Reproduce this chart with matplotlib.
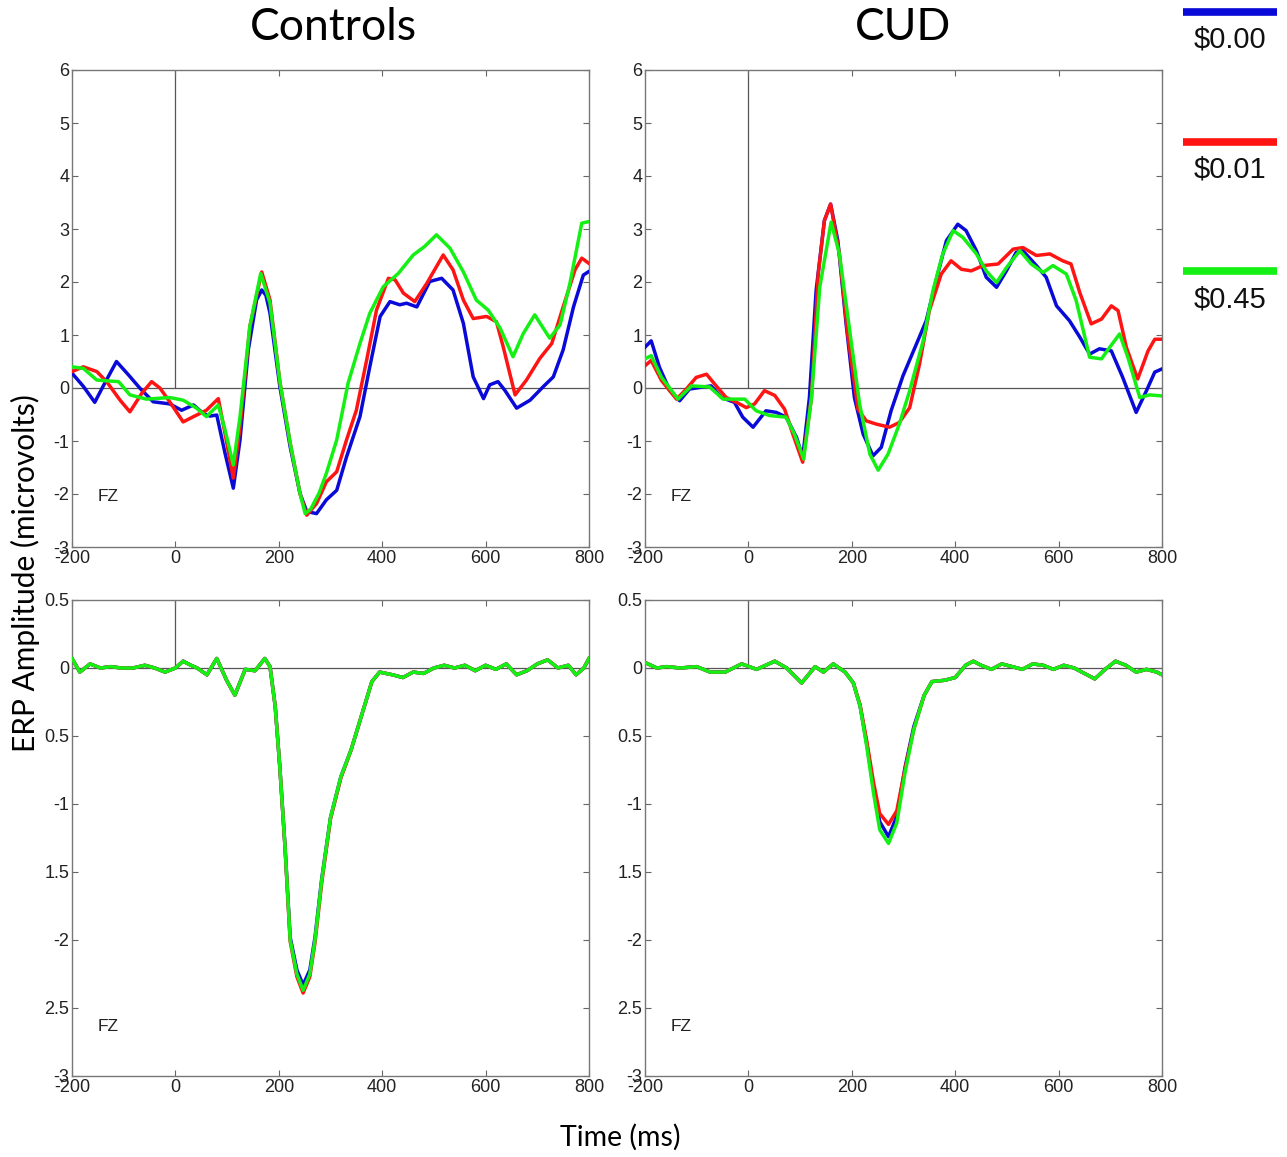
import matplotlib
matplotlib.use("Agg")
import matplotlib.pyplot as plt

plt.rcParams['font.family'] = ['Liberation Sans', 'DejaVu Sans']
plt.rcParams['axes.unicode_minus'] = False

# ---- data (time in ms, amplitude in microvolts) ----
labels = ["$0.00", "$0.01", "$0.45"]
colors = ["#0a0ad8", "#ff1414", "#14f014"]

# Controls, top (raw ERP)
ctrl_blue_t = [-200, -178, -156, -140, -114, -91, -69, -43, -11, 12, 35, 54, 67, 80, 96, 112, 125, 141, 157, 167,
               175, 183, 202, 222, 241, 254, 273, 292, 312, 331, 357, 376, 396, 415, 434, 447, 467, 492, 515, 537,
               557, 576, 596, 608, 624, 637, 660, 686, 712, 731, 750, 770, 789, 800]
ctrl_blue_v = [0.28, 0.03, -0.27, 0.03, 0.50, 0.25, 0.0, -0.26, -0.30, -0.42, -0.32, -0.48, -0.53, -0.51, -1.23,
               -1.89, -0.98, 0.72, 1.66, 1.85, 1.75, 1.41, 0.03, -1.11, -1.99, -2.33, -2.37, -2.11, -1.93, -1.30,
               -0.54, 0.40, 1.35, 1.63, 1.57, 1.60, 1.53, 2.01, 2.07, 1.85, 1.22, 0.21, -0.20, 0.06, 0.12, -0.04,
               -0.38, -0.23, 0.03, 0.21, 0.72, 1.53, 2.13, 2.20]
ctrl_red_t = [-200, -178, -152, -133, -107, -88, -65, -46, -30, -11, 15, 35, 60, 83, 96, 112, 125, 144, 167, 183,
              202, 222, 241, 254, 273, 292, 312, 331, 350, 370, 389, 412, 425, 441, 463, 486, 518, 537, 557, 576,
              602, 621, 634, 657, 679, 705, 728, 750, 773, 786, 800]
ctrl_red_v = [0.31, 0.40, 0.31, 0.12, -0.23, -0.45, -0.10, 0.12, 0.0, -0.26, -0.64, -0.54, -0.42, -0.20, -0.86,
              -1.70, -0.73, 1.16, 2.19, 1.66, 0.12, -1.04, -1.99, -2.40, -2.18, -1.77, -1.58, -0.98, -0.42, 0.53,
              1.47, 2.07, 2.04, 1.79, 1.63, 1.97, 2.51, 2.23, 1.66, 1.31, 1.35, 1.25, 0.78, -0.13, 0.15, 0.56,
              0.84, 1.53, 2.23, 2.45, 2.35]
ctrl_green_t = [-200, -178, -152, -110, -88, -56, -11, 15, 41, 60, 83, 96, 112, 125, 144, 165, 183, 202, 222, 241,
                251, 262, 278, 292, 312, 334, 357, 376, 402, 431, 460, 482, 505, 531, 557, 582, 605, 628, 653, 673,
                695, 724, 744, 763, 786, 800]
ctrl_green_v = [0.40, 0.37, 0.15, 0.12, -0.13, -0.21, -0.18, -0.23, -0.38, -0.54, -0.32, -0.79, -1.45, -0.54,
                1.16, 2.16, 1.60, 0.12, -1.04, -1.99, -2.37, -2.28, -1.98, -1.61, -0.98, 0.09, 0.84, 1.41, 1.91,
                2.16, 2.51, 2.67, 2.89, 2.64, 2.19, 1.66, 1.47, 1.13, 0.59, 1.03, 1.38, 0.94, 1.19, 1.97, 3.11, 3.14]

# CUD, top (raw ERP)
cud_blue_t = [-200, -188, -172, -152, -133, -114, -94, -72, -52, -27, -11, 9, 34, 54, 73, 93, 105, 118, 131, 147,
              159, 173, 189, 205, 222, 241, 257, 276, 299, 325, 344, 363, 383, 405, 421, 441, 460, 480, 499, 518,
              531, 557, 576, 596, 621, 641, 660, 679, 702, 724, 750, 770, 786, 800]
cud_blue_v = [0.77, 0.89, 0.39, -0.05, -0.24, -0.02, 0.01, 0.04, -0.18, -0.27, -0.55, -0.74, -0.43, -0.46, -0.55,
              -0.93, -1.31, -0.18, 1.84, 3.16, 3.47, 2.78, 1.21, -0.18, -0.87, -1.28, -1.12, -0.43, 0.23, 0.83,
              1.27, 2.03, 2.78, 3.09, 2.97, 2.59, 2.09, 1.90, 2.21, 2.56, 2.59, 2.31, 2.09, 1.55, 1.27, 0.96, 0.64,
              0.74, 0.70, 0.20, -0.46, -0.05, 0.30, 0.36]
cud_red_t = [-200, -188, -168, -139, -120, -101, -81, -65, -43, -23, -4, 12, 31, 51, 70, 86, 105, 122, 135, 147,
             159, 176, 192, 212, 228, 247, 273, 292, 312, 331, 350, 373, 392, 412, 431, 454, 483, 512, 531, 557,
             583, 608, 624, 641, 663, 683, 702, 715, 731, 753, 773, 786, 800]
cud_red_v = [0.42, 0.52, 0.14, -0.21, -0.02, 0.20, 0.26, 0.07, -0.18, -0.27, -0.37, -0.30, -0.05, -0.14, -0.40,
             -0.87, -1.40, -0.18, 2.15, 3.16, 3.47, 2.53, 1.02, -0.40, -0.62, -0.68, -0.74, -0.65, -0.37, 0.45,
             1.46, 2.15, 2.40, 2.24, 2.21, 2.31, 2.34, 2.62, 2.65, 2.50, 2.53, 2.40, 2.34, 1.80, 1.21, 1.30, 1.55,
             1.46, 0.77, 0.17, 0.70, 0.92, 0.92]
cud_green_t = [-200, -188, -168, -136, -110, -75, -49, -23, -7, 15, 41, 73, 89, 107, 122, 138, 160, 176, 196, 215,
               235, 251, 270, 292, 312, 338, 357, 376, 396, 415, 441, 460, 480, 499, 525, 547, 570, 589, 615, 634,
               660, 683, 699, 718, 734, 757, 776, 800]
cud_green_v = [0.55, 0.61, 0.20, -0.21, 0.04, 0.02, -0.21, -0.21, -0.21, -0.43, -0.52, -0.55, -0.87, -1.34, -0.18,
               1.90, 3.13, 2.53, 1.08, -0.30, -1.25, -1.55, -1.25, -0.68, -0.05, 0.89, 1.84, 2.53, 2.97, 2.84,
               2.53, 2.21, 1.99, 2.27, 2.59, 2.34, 2.18, 2.31, 2.15, 1.65, 0.58, 0.55, 0.77, 1.02, 0.58, -0.18,
               -0.13, -0.15]

# Controls, bottom (difference wave)
ctrl_diff_t = [-200, -185, -165, -145, -125, -105, -82, -59, -40, -20, 0, 15, 30, 42, 61, 80, 99, 115, 135, 154,
               173, 183, 193, 202, 212, 222, 235, 247, 260, 270, 283, 300, 320, 340, 360, 380, 395, 420, 440, 460,
               480, 500, 520, 540, 560, 580, 600, 620, 640, 660, 680, 700, 720, 740, 760, 775, 790, 800]
ctrl_diff_blue = [0.07, -0.03, 0.03, 0.0, 0.01, 0.0, 0.0, 0.02, 0.0, -0.03, 0.0, 0.05, 0.02, 0.0, -0.05, 0.07,
                  -0.09, -0.20, -0.01, -0.02, 0.07, 0.01, -0.28, -0.73, -1.31, -1.98, -2.22, -2.33, -2.22, -1.98,
                  -1.55, -1.10, -0.80, -0.60, -0.35, -0.10, -0.03, -0.05, -0.07, -0.03, -0.04, 0.0, 0.02, 0.0,
                  0.02, -0.02, 0.02, -0.01, 0.03, -0.05, -0.02, 0.03, 0.06, 0.0, 0.02, -0.05, 0.0, 0.07]
ctrl_diff_red = [0.07, -0.03, 0.03, 0.0, 0.01, 0.0, 0.0, 0.02, 0.0, -0.03, 0.0, 0.05, 0.02, 0.0, -0.05, 0.07,
                 -0.09, -0.20, -0.01, -0.02, 0.07, 0.01, -0.28, -0.73, -1.32, -2.01, -2.27, -2.39, -2.27, -2.02,
                 -1.58, -1.11, -0.81, -0.60, -0.35, -0.10, -0.03, -0.05, -0.07, -0.03, -0.04, 0.0, 0.02, 0.0,
                 0.02, -0.02, 0.02, -0.01, 0.03, -0.05, -0.02, 0.03, 0.06, 0.0, 0.02, -0.05, 0.0, 0.07]
ctrl_diff_green = [0.07, -0.03, 0.03, 0.0, 0.01, 0.0, 0.0, 0.02, 0.0, -0.03, 0.0, 0.05, 0.02, 0.0, -0.05, 0.07,
                   -0.09, -0.20, -0.01, -0.02, 0.07, 0.01, -0.28, -0.73, -1.31, -2.00, -2.25, -2.37, -2.25, -2.00,
                   -1.56, -1.10, -0.80, -0.60, -0.35, -0.10, -0.03, -0.05, -0.07, -0.03, -0.04, 0.0, 0.02, 0.0,
                   0.02, -0.02, 0.02, -0.01, 0.03, -0.05, -0.02, 0.03, 0.06, 0.0, 0.02, -0.05, 0.0, 0.07]

# CUD, bottom (difference wave)
cud_diff_t = [-200, -177, -158, -132, -100, -74, -45, -13, 16, 51, 74, 103, 129, 145, 164, 187, 203, 216, 229,
              242, 254, 271, 287, 303, 320, 340, 355, 380, 400, 420, 435, 450, 470, 490, 510, 530, 550, 570, 590,
              610, 630, 650, 670, 690, 710, 730, 750, 770, 790, 800]
cud_diff_blue = [0.04, 0.0, 0.01, 0.0, 0.01, -0.03, -0.03, 0.03, -0.01, 0.05, 0.0, -0.11, 0.01, -0.03, 0.03,
                 -0.03, -0.11, -0.28, -0.56, -0.88, -1.13, -1.24, -1.09, -0.73, -0.43, -0.2, -0.1, -0.09, -0.07,
                 0.02, 0.05, 0.02, -0.01, 0.03, 0.01, -0.01, 0.03, 0.02, -0.01, 0.02, 0.0, -0.04, -0.08, -0.01,
                 0.05, 0.02, -0.03, -0.01, -0.03, -0.05]
cud_diff_red = [0.04, 0.0, 0.01, 0.0, 0.01, -0.03, -0.03, 0.03, -0.01, 0.05, 0.0, -0.11, 0.01, -0.03, 0.03,
                -0.03, -0.11, -0.27, -0.54, -0.84, -1.07, -1.15, -1.05, -0.74, -0.45, -0.2, -0.1, -0.09, -0.07,
                0.02, 0.05, 0.02, -0.01, 0.03, 0.01, -0.01, 0.03, 0.02, -0.01, 0.02, 0.0, -0.04, -0.08, -0.01,
                0.05, 0.02, -0.03, -0.01, -0.03, -0.05]
cud_diff_green = [0.04, 0.0, 0.01, 0.0, 0.01, -0.03, -0.03, 0.03, -0.01, 0.05, 0.0, -0.11, 0.01, -0.03, 0.03,
                  -0.03, -0.11, -0.28, -0.58, -0.92, -1.19, -1.29, -1.14, -0.77, -0.45, -0.2, -0.1, -0.09, -0.07,
                  0.02, 0.05, 0.02, -0.01, 0.03, 0.01, -0.01, 0.03, 0.02, -0.01, 0.02, 0.0, -0.04, -0.08, -0.01,
                  0.05, 0.02, -0.03, -0.01, -0.03, -0.05]

x_ticks = [-200, 0, 200, 400, 600, 800]
top_yticks = [-3, -2, -1, 0, 1, 2, 3, 4, 5, 6]
bot_yticks = [-3, -2.5, -2, -1.5, -1, -0.5, 0, 0.5]
bot_yticklabels = ["-3", "2.5", "-2", "1.5", "-1", "0.5", "0", "0.5"]
electrode = "FZ"

W, H = 1287, 1157
fig = plt.figure(figsize=(W / 100, H / 100), dpi=100)


def panel(left_px, top_px, right_px, bottom_px):
    return fig.add_axes([left_px / W, 1 - bottom_px / H, (right_px - left_px) / W, (bottom_px - top_px) / H])


def style(ax, ylim, yticks, yticklabels=None):
    ax.set_xlim(-200, 800)
    ax.set_ylim(*ylim)
    ax.set_xticks(x_ticks)
    ax.set_yticks(yticks)
    if yticklabels is not None:
        ax.set_yticklabels(yticklabels)
    ax.axhline(0, color="#555555", lw=0.9, zorder=1)
    ax.vlines(0, 0, ylim[1], color="#555555", lw=0.9, zorder=1)
    ax.tick_params(direction="in", top=True, right=True, length=4, width=0.8, color="#666666",
                   labelcolor="#222222", labelsize=13, pad=2)
    for s in ax.spines.values():
        s.set_color("#777777")
        s.set_linewidth(1.0)
    # electrode tag in the lower-left corner
    ax.text(0.05, 0.105, electrode, transform=ax.transAxes, fontsize=12.5, color="#222222",
            va="center", ha="left")


ax_tl = panel(72, 70, 589, 547)
ax_tr = panel(645, 70, 1162, 547)
ax_bl = panel(72, 600, 589, 1076)
ax_br = panel(645, 600, 1162, 1076)

top_series = [
    (ax_tl, [(ctrl_blue_t, ctrl_blue_v), (ctrl_red_t, ctrl_red_v), (ctrl_green_t, ctrl_green_v)]),
    (ax_tr, [(cud_blue_t, cud_blue_v), (cud_red_t, cud_red_v), (cud_green_t, cud_green_v)]),
]
bot_series = [
    (ax_bl, [(ctrl_diff_t, ctrl_diff_blue), (ctrl_diff_t, ctrl_diff_red), (ctrl_diff_t, ctrl_diff_green)]),
    (ax_br, [(cud_diff_t, cud_diff_blue), (cud_diff_t, cud_diff_red), (cud_diff_t, cud_diff_green)]),
]

for ax, series in top_series:
    for (t, v), c in zip(series, colors):
        ax.plot(t, v, color=c, lw=2.5, zorder=3, solid_joinstyle="round")
    style(ax, (-3, 6), top_yticks)

for ax, series in bot_series:
    for (t, v), c in zip(series, colors):
        ax.plot(t, v, color=c, lw=2.5, zorder=3, solid_joinstyle="round")
    style(ax, (-3, 0.5), bot_yticks, bot_yticklabels)

title_font = ["Lato", "DejaVu Sans"]
fig.text(333 / W, 1 - 27 / H, "Controls", ha="center", va="center", fontsize=32, family=title_font)
fig.text(903 / W, 1 - 27 / H, "CUD", ha="center", va="center", fontsize=32, family=title_font)
fig.text(25 / W, 1 - 573 / H, "ERP Amplitude (microvolts)", rotation=90, ha="center", va="center",
         fontsize=21.5, family=title_font)
fig.text(620 / W, 1 - 1137 / H, "Time (ms)", ha="center", va="center", fontsize=20.5, family=title_font)

# legend column on the right
lax = fig.add_axes([1183 / W, 1 - 320 / H, 94 / W, 320 / H])
lax.set_xlim(0, 1)
lax.set_ylim(320, 0)
lax.axis("off")
for i, (lab, c) in enumerate(zip(labels, colors)):
    y = 12 + i * 129.5
    lax.plot([0, 1], [y, y], color=c, lw=5.5, solid_capstyle="butt")
    lax.text(0.5, y + 28, lab.replace("$", r"\$"), ha="center", va="center", fontsize=21, color="#111111")

fig.savefig("out.png", dpi=100)
